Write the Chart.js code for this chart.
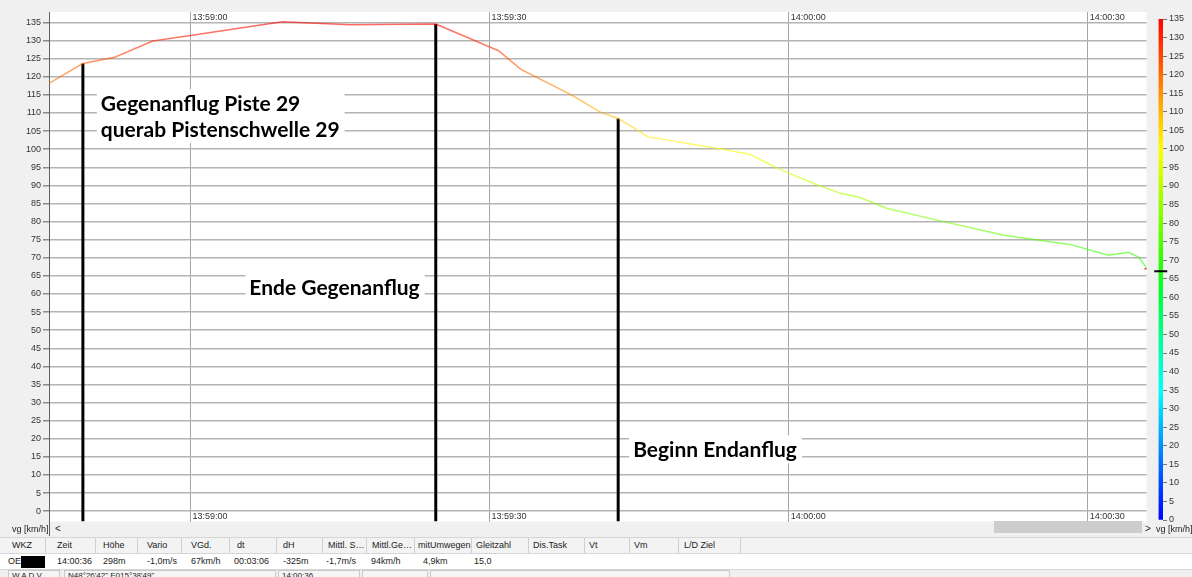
<!DOCTYPE html>
<html>
<head>
<meta charset="utf-8">
<script src="https://cdn.jsdelivr.net/npm/chart.js@4.4.0/dist/chart.umd.min.js"></script>
<style>
  body { margin: 0; width: 1192px; height: 577px; overflow: hidden; background: #f0f0f0;
         position: relative; font-family: "Liberation Sans", Arial, sans-serif; font-size: 9px; color: #222; }
  canvas { position: absolute; }
  #main { left: 0; top: 0; }
  #scale { left: 1150px; top: 0; }
  .abs { position: absolute; white-space: nowrap; }
  #unitLeft { left: 12px; top: 524px; }
  #axisStub { left: 49px; top: 521px; width: 1px; height: 15px; background: #606060; }
  #arrowL { left: 55px; top: 523px; font-size: 10px; }
  #thumb { left: 994px; top: 521px; width: 148px; height: 12px; background: #cdcdcd; }
  #arrowR { left: 1145px; top: 523px; font-size: 10px; }
  #unitRight { left: 1156px; top: 524px; }
  #table { left: 0; top: 537px; width: 1192px; }
  .row { position: relative; height: 15px; border-bottom: 1px solid #d6d6d6; }
  .head { background: #f3f3f3; border-top: 1px solid #d6d6d6; }
  .data { background: #fff; }
  .cell { position: absolute; top: 0; height: 15px; line-height: 15px; }
  .sep { position: absolute; top: 0; width: 1px; height: 15px; background: #d0d0d0; }
  .black { position: absolute; left: 21px; top: 2px; width: 24px; height: 12px; background: #000; }
  #status { left: 0; top: 569px; width: 1192px; height: 12px; }
  .sbox { position: absolute; top: 1px; height: 10px; border: 1px solid #c8c8c8; background: #f5f5f5; padding-left: 3px; line-height: 10px; box-sizing: border-box; font-size: 8px; }
</style>
</head>
<body>
<canvas id="main" width="1152" height="527"></canvas>
<canvas id="scale" width="42" height="532"></canvas>

<div class="abs" id="unitLeft">vg [km/h]</div>
<div class="abs" id="axisStub"></div>
<div class="abs" id="arrowL">&lt;</div>
<div class="abs" id="thumb"></div>
<div class="abs" id="arrowR">&gt;</div>
<div class="abs" id="unitRight">vg [km/h]</div>
<div class="abs" id="table"></div>
<div class="abs" id="status"></div>

<script>
// Zeit in Sekunden ab 13:59:00, Geschwindigkeit über Grund in km/h
const flightTime  = [-14.2, -10.8, -7.6, -3.8, 0.0, 9.2, 16.0, 24.6, 30.9, 33.1, 38.2, 41.2, 42.9, 45.9,
                     52.9, 56.1, 58.9, 62.9, 65.2, 67.1, 69.9, 74.9, 81.6, 88.2, 92.1, 94.1, 95.1, 95.9];
const groundSpeed = [118.2, 123.7, 125.4, 129.9, 131.4, 135.2, 134.4, 134.6, 127.2, 122.1, 115.0, 110.1, 108.5, 103.4,
                     100.2, 98.6, 94.7, 90.1, 87.8, 86.7, 83.6, 80.4, 76.2, 73.7, 70.7, 71.5, 70.2, 67.2];
const currentSpeed = 67;

// Markierungen (senkrechte Linien)
const markerTime = [-10.8, 24.6, 42.9];
const markerTop  = [123.7, 134.6, 108.5];

// Beschriftungen
const noteLines = [['Gegenanflug Piste 29', 'querab Pistenschwelle 29'], ['Ende Gegenanflug'], ['Beginn Endanflug']];
const noteTime  = [-9.0, 5.9, 44.4];
const noteSpeed = [112.7, 61.8, 17.1];

// Achsen
const timeTicks  = [0, 30, 60, 90];
const timeLabels = ['13:59:00', '13:59:30', '14:00:00', '14:00:30'];
const speedTicks = [0, 5, 10, 15, 20, 25, 30, 35, 40, 45, 50, 55, 60, 65, 70,
                    75, 80, 85, 90, 95, 100, 105, 110, 115, 120, 125, 130, 135];
const colourMax  = 135;
const colourStops = [0, 35, 62, 70, 100, 135];
const colourHex   = ['#0000ff', '#00ffff', '#00ff30', '#30ff00', '#ffff00', '#ff0000'];

// Tabelle unten
const tableHeads  = ['WKZ', 'Zeit', 'Höhe', 'Vario', 'VGd.', 'dt', 'dH', 'Mittl. S…', 'Mittl.Ge…', 'mitUmwegen',
                     'Gleitzahl', 'Dis.Task', 'Vt', 'Vm', 'L/D Ziel'];
const tableValues = ['OE', '14:00:36', '298m', '-1,0m/s', '67km/h', '00:03:06', '-325m', '-1,7m/s', '94km/h', '4,9km',
                     '15,0', '', '', '', ''];
const statusTexts = ['W  A  D  V', 'N48°26\'42" E015°38\'49"', '14:00:36', '', ''];

const tickFont = { family: 'Liberation Sans', size: 9 };

function rgba(hex, a) {
  const n = parseInt(hex.slice(1), 16);
  return `rgba(${n >> 16}, ${(n >> 8) & 255}, ${n & 255}, ${a})`;
}

function speedGradient(chart, alpha) {
  const { ctx, chartArea, scales } = chart;
  if (!chartArea) return null;
  const y = scales.y;
  const g = ctx.createLinearGradient(0, y.getPixelForValue(0), 0, y.getPixelForValue(colourMax));
  colourStops.forEach((v, i) => g.addColorStop(v / colourMax, rgba(colourHex[i], alpha)));
  return g;
}

/** weißer Hintergrund, Zeitbeschriftung oben/unten und Textfelder */
const plotExtras = {
  id: 'plotExtras',
  beforeDraw(chart) {
    const { ctx, chartArea: a } = chart;
    ctx.save();
    ctx.fillStyle = '#fff';
    ctx.fillRect(a.left, a.top, a.right - a.left, a.bottom - a.top);
    ctx.restore();
  },
  beforeDatasetsDraw(chart) {
    const { ctx, chartArea: a, scales } = chart;
    ctx.save();
    ctx.font = '9px "Liberation Sans"';
    ctx.fillStyle = '#333';
    timeTicks.forEach((t, i) => {
      const x = scales.x.getPixelForValue(t) + 2;
      ctx.textBaseline = 'top';
      ctx.fillText(timeLabels[i], x, a.top + 1);
      ctx.textBaseline = 'bottom';
      ctx.fillText(timeLabels[i], x, a.bottom);
    });

    ctx.font = 'bold 21px Lato';
    ctx.textBaseline = 'middle';
    noteLines.forEach((lines, i) => {
      const x = scales.x.getPixelForValue(noteTime[i]);
      const y = scales.y.getPixelForValue(noteSpeed[i]);
      const w = Math.max(...lines.map(l => ctx.measureText(l).width));
      const lh = 26;
      ctx.fillStyle = '#fff';
      ctx.fillRect(x - 4, y - 14, w + 9, lh * (lines.length - 1) + 28);
      ctx.fillStyle = '#000';
      lines.forEach((l, k) => ctx.fillText(l, x, y + 1 + k * lh));
    });
    ctx.restore();
  }
};

const markerSets = markerTime.map((t, i) => ({
  data: [{ x: t, y: markerTop[i] }, { x: t, y: -2.85 }],
  borderColor: '#000',
  borderWidth: 3,
  pointRadius: 0
}));

new Chart(document.getElementById('main'), {
  type: 'line',
  data: {
    datasets: [
      {
        data: flightTime.map((t, i) => ({ x: t, y: groundSpeed[i] })),
        borderColor: c => speedGradient(c.chart, 0.6),
        borderWidth: 1.5,
        pointRadius: 0,
        tension: 0
      },
      {
        data: [{ x: flightTime[flightTime.length - 1], y: currentSpeed }],
        pointStyle: 'line',
        pointRadius: 2,
        pointBorderWidth: 1.5,
        pointBorderColor: '#ff2020',
        showLine: false
      },
      ...markerSets
    ]
  },
  options: {
    responsive: false,
    animation: false,
    layout: { padding: { top: 12, right: 2, bottom: 1, left: 0 } },
    plugins: { legend: { display: false }, tooltip: { enabled: false } },
    scales: {
      x: {
        type: 'linear', min: -14.2, max: 95.9,
        afterBuildTicks: s => { s.ticks = timeTicks.map(v => ({ value: v })); },
        afterFit: s => { s.height = 0; s.paddingLeft = 0; s.paddingRight = 0; },
        grid: { color: '#a6a6a6', lineWidth: 1, drawTicks: false },
        border: { display: false },
        ticks: { display: false }
      },
      y: {
        min: -2.85, max: 137.9,
        afterBuildTicks: s => { s.ticks = speedTicks.map(v => ({ value: v })); },
        afterFit: s => { s.width = 49; s.paddingTop = 0; s.paddingBottom = 0; },
        grid: { color: '#b4b4b4', lineWidth: 1.5, tickLength: 6, tickColor: '#8c8c8c' },
        border: { color: '#606060', width: 1 },
        ticks: { font: tickFont, color: '#333', padding: 2, autoSkip: false }
      }
    }
  },
  plugins: [plotExtras]
});

// Farbskala rechts
new Chart(document.getElementById('scale'), {
  type: 'bar',
  data: {
    labels: ['vg'],
    datasets: [
      {
        type: 'line',
        data: [currentSpeed],
        pointStyle: 'line',
        pointRadius: 6.5,
        pointBorderWidth: 2,
        pointBorderColor: '#000',
        showLine: false
      },
      {
        data: [colourMax],
        backgroundColor: c => speedGradient(c.chart, 1),
        barPercentage: 1,
        categoryPercentage: 1,
        borderWidth: 0
      }
    ]
  },
  options: {
    responsive: false,
    animation: false,
    layout: { padding: { top: 19, right: 0, bottom: 12, left: 4 } },
    plugins: { legend: { display: false }, tooltip: { enabled: false } },
    scales: {
      x: { display: false },
      y: {
        position: 'right', min: 0, max: colourMax,
        afterBuildTicks: s => { s.ticks = speedTicks.map(v => ({ value: v })); },
        afterFit: s => { s.width = 29; s.paddingTop = 0; s.paddingBottom = 0; },
        grid: { drawOnChartArea: false, tickLength: 4, tickColor: '#777' },
        border: { display: false },
        ticks: { font: tickFont, color: '#333', padding: 2, autoSkip: false }
      }
    }
  }
});

// Tabelle
const colText = [12, 57, 103, 147, 191, 237, 283, 328, 372, 418, 476, 533, 589, 634, 684];
const colSep  = [45, 95, 137, 181, 229, 276, 322, 366, 414, 471, 528, 584, 629, 678, 740];
const valText = [8, 57, 103, 147, 191, 234, 283, 326, 371, 423, 474, 533, 589, 634, 684];
const table = document.getElementById('table');
[['row head', tableHeads, colText], ['row data', tableValues, valText]].forEach(([cls, texts, xs]) => {
  const row = document.createElement('div');
  row.className = cls;
  texts.forEach((t, i) => {
    const c = document.createElement('div');
    c.className = 'cell';
    c.style.left = xs[i] + 'px';
    c.textContent = t;
    row.appendChild(c);
    if (cls === 'row head') {
      const s = document.createElement('div');
      s.className = 'sep';
      s.style.left = colSep[i] + 'px';
      row.appendChild(s);
    }
  });
  if (cls === 'row data') {
    const b = document.createElement('div');
    b.className = 'black';
    row.appendChild(b);
  }
  table.appendChild(row);
});

const statusLeft = [8, 64, 278, 362, 430];
const statusWidth = [52, 212, 82, 66, 300];
const status = document.getElementById('status');
statusTexts.forEach((t, i) => {
  const b = document.createElement('div');
  b.className = 'sbox';
  b.style.left = statusLeft[i] + 'px';
  b.style.width = statusWidth[i] + 'px';
  b.textContent = t;
  status.appendChild(b);
});
</script>
</body>
</html>
